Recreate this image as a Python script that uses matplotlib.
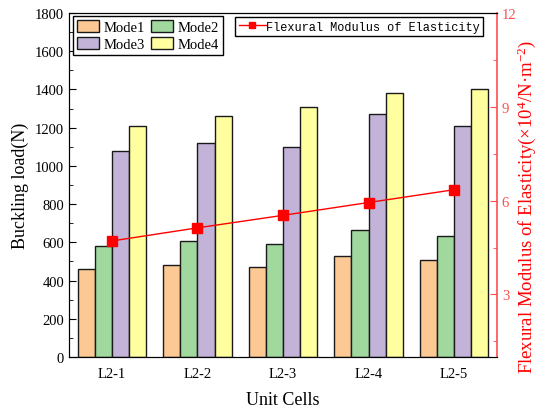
import matplotlib
matplotlib.use('Agg')
import matplotlib.pyplot as plt
import numpy as np
from matplotlib.ticker import MultipleLocator

plt.rcParams['font.family'] = 'Liberation Serif'
plt.rcParams['mathtext.fontset'] = 'custom'
plt.rcParams['mathtext.rm'] = 'Liberation Serif'
plt.rcParams['mathtext.it'] = 'Liberation Serif:italic'

# dados
celulas = ['L2-1', 'L2-2', 'L2-3', 'L2-4', 'L2-5']
mode1 = [460, 480, 470, 530, 510]
mode2 = [582, 605, 590, 665, 635]
mode3 = [1080, 1120, 1100, 1270, 1210]
mode4 = [1210, 1260, 1310, 1380, 1400]
modulo = [4.71, 5.13, 5.53, 5.94, 6.35]

cores = ['#FCC995', '#A0D89E', '#C3B3D8', '#FFFFA0']
vermelho = '#FF0000'
eixo_verm = '#FF4D4D'

fig = plt.figure(figsize=(5.39, 4.10), dpi=100)
ax = fig.add_axes([69/539, 1-358/410, (497-69)/539, (358-14)/410])

x = np.arange(len(celulas))
w = 0.2
barras = []
for k, (serie, nome) in enumerate(zip([mode1, mode2, mode3, mode4], ['Mode1', 'Mode2', 'Mode3', 'Mode4'])):
    b = ax.bar(x + (k - 1.5) * w, serie, w, color=cores[k], edgecolor='#1a1a1a', linewidth=1.0, label=nome)
    barras.append(b)

ax.set_xlim(-0.5, 4.5)
ax.set_ylim(0, 1800)
ax.set_xticks(x)
ax.set_xticklabels(celulas, fontsize=10.5)
ax.tick_params(axis='x', length=0, pad=7)
ax.yaxis.set_major_locator(MultipleLocator(200))
ax.yaxis.set_minor_locator(MultipleLocator(100))
ax.tick_params(axis='y', which='major', direction='in', length=5, labelsize=10.5)
ax.tick_params(axis='y', which='minor', direction='in', length=3)
ax.set_ylabel('Buckling load(N)', fontsize=13, labelpad=4)
ax.set_xlabel('Unit Cells', fontsize=13, labelpad=8)
ax.spines['right'].set_visible(False)

ax2 = ax.twinx()
linha, = ax2.plot(x, modulo, color=vermelho, marker='s', markersize=6.5, linewidth=1.0,
                  label='Flexural Modulus of Elasticity')
ax2.set_ylim(1, 12)
ax2.yaxis.set_major_locator(MultipleLocator(3))
ax2.yaxis.set_minor_locator(MultipleLocator(1.5))
ax2.tick_params(axis='y', which='major', direction='in', length=5, colors=eixo_verm, labelsize=10.5)
ax2.tick_params(axis='y', which='minor', direction='in', length=3, colors=eixo_verm)
ax2.spines['right'].set_color(eixo_verm)
ax2.spines['right'].set_linewidth(1.2)
ax2.set_ylabel('Flexural Modulus of Elasticity(×10$^{4}$/N·m$^{-2}$)', fontsize=13.5,
               color=vermelho)
ax2.yaxis.set_label_coords((515 - 69) / (497 - 69), (358 - 207) / (358 - 14))

# ordem das colunas: Mode1 Mode2 / Mode3 Mode4
ordem = [barras[0], barras[2], barras[1], barras[3]]
leg1 = ax2.legend(handles=ordem, ncol=2, loc='upper left', bbox_to_anchor=(73/539, 1-17/410),
                  bbox_transform=fig.transFigure, borderaxespad=0, fontsize=10.5, fancybox=False,
                  edgecolor='black', framealpha=1, handlelength=1.55, handleheight=0.95,
                  handletextpad=0.3, columnspacing=0.4, labelspacing=0.2, borderpad=0.25)
leg1.get_frame().set_linewidth(1.0)
ax2.add_artist(leg1)
leg2 = ax2.legend(handles=[linha], loc='upper left', bbox_to_anchor=(235/539, 1-18/410),
                  bbox_transform=fig.transFigure, borderaxespad=0, fancybox=False,
                  edgecolor='black', framealpha=1, handlelength=2.3, handletextpad=0.0,
                  borderpad=0.3, markerscale=0.75, prop={'family': 'Liberation Mono', 'size': 8.6})
leg2.get_frame().set_linewidth(1.0)

fig.savefig('out.png', dpi=100)
